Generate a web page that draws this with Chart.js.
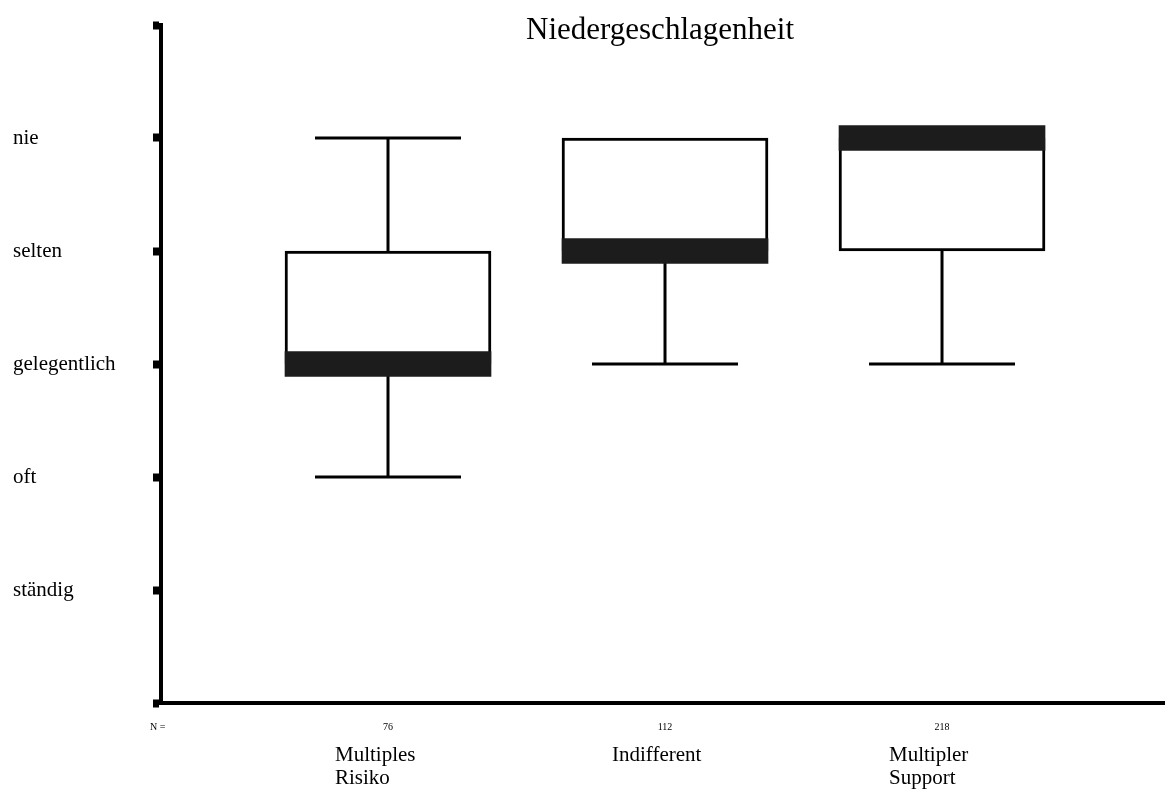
<!DOCTYPE html>
<html>
<head>
<meta charset="utf-8">
<script src="https://cdn.jsdelivr.net/npm/chart.js@4.4.1/dist/chart.umd.min.js"></script>
<style>
  html, body { margin: 0; background: #fff; }
</style>
</head>
<body>
<canvas id="chart" width="1165" height="789"></canvas>
<script>
  // Daten (Boxplot: Niedergeschlagenheit nach Gruppe)
  const groupNames = [['Multiples', 'Risiko'], ['Indifferent'], ['Multipler', 'Support']];
  const groupCounts = ['76', '112', '218'];
  const groupPositions = [1, 2, 3];
  const scaleLabels = ['', 'ständig', 'oft', 'gelegentlich', 'selten', 'nie', ''];
  const whiskerLow = [2, 3, 3];
  const boxLow = [3, 4, 4];
  const medians = [3, 4, 5];
  const boxHigh = [4, 5, 5];
  const whiskerHigh = [5, 5, 5];

  const FONT = 'Liberation Serif';
  const MEDIAN_HALF = 0.11;
  const BOX_WIDTH = 206;
  const CAP_HALF = 73;

  // Whisker-Linien hinter den Boxen (keine Kappe, wenn sie auf der Boxkante liegt)
  const whiskerPlugin = {
    id: 'whiskers',
    beforeDatasetsDraw(chart) {
      const { ctx, scales: { x, y } } = chart;
      ctx.save();
      ctx.strokeStyle = '#000';
      ctx.lineWidth = 3;
      groupPositions.forEach((p, i) => {
        const px = x.getPixelForValue(p);
        ctx.beginPath();
        if (whiskerLow[i] < boxLow[i]) {
          const yl = y.getPixelForValue(whiskerLow[i]);
          ctx.moveTo(px, yl);
          ctx.lineTo(px, y.getPixelForValue(boxLow[i]));
          ctx.moveTo(px - CAP_HALF, yl);
          ctx.lineTo(px + CAP_HALF, yl);
        }
        if (whiskerHigh[i] > boxHigh[i]) {
          const yh = y.getPixelForValue(whiskerHigh[i]);
          ctx.moveTo(px, y.getPixelForValue(boxHigh[i]));
          ctx.lineTo(px, yh);
          ctx.moveTo(px - CAP_HALF, yh);
          ctx.lineTo(px + CAP_HALF, yh);
        }
        ctx.stroke();
      });
      ctx.restore();
    }
  };

  // Titel, "N =" und Gruppennamen
  const textPlugin = {
    id: 'texts',
    afterDraw(chart) {
      const { ctx, scales: { x } } = chart;
      ctx.save();
      ctx.fillStyle = '#000';
      ctx.textBaseline = 'middle';

      ctx.font = `31px "${FONT}"`;
      ctx.textAlign = 'center';
      ctx.fillText('Niedergeschlagenheit', x.getPixelForValue(2) - 5, 31);

      ctx.font = `10px "${FONT}"`;
      ctx.textAlign = 'left';
      ctx.fillText('N =', 150, 727);

      ctx.font = `21px "${FONT}"`;
      groupPositions.forEach((p, i) => {
        const px = x.getPixelForValue(p) - 53;
        groupNames[i].forEach((line, j) => {
          ctx.fillText(line, px, 755 + j * 23);
        });
      });
      ctx.restore();
    }
  };

  new Chart(document.getElementById('chart'), {
    type: 'bar',
    data: {
      datasets: [
        {
          label: 'Median',
          data: groupPositions.map((p, i) => ({ x: p, y: [medians[i] - MEDIAN_HALF, medians[i] + MEDIAN_HALF] })),
          backgroundColor: '#1c1c1c',
          borderWidth: 0,
          barThickness: BOX_WIDTH,
          grouped: false,
          order: 1
        },
        {
          label: 'Box',
          data: groupPositions.map((p, i) => ({ x: p, y: [boxLow[i], boxHigh[i]] })),
          backgroundColor: '#fff',
          borderColor: '#000',
          borderWidth: 3,
          borderSkipped: false,
          barThickness: BOX_WIDTH,
          grouped: false,
          order: 2
        }
      ]
    },
    options: {
      responsive: false,
      animation: false,
      layout: { padding: { left: 13, top: 25, right: 0, bottom: 0 } },
      plugins: {
        legend: { display: false },
        tooltip: { enabled: false },
        title: { display: false }
      },
      scales: {
        x: {
          type: 'linear',
          offset: false,
          min: 0.1805,
          max: 3.805,
          afterBuildTicks: s => { s.ticks = groupPositions.map(v => ({ value: v })); },
          afterFit: s => { s.height = 86; },
          ticks: {
            callback: (v, i) => groupCounts[i],
            color: '#000',
            font: { family: FONT, size: 10 },
            padding: 18,
            maxRotation: 0,
            autoSkip: false
          },
          grid: { display: false, drawTicks: false },
          border: { display: true, color: '#000', width: 4 }
        },
        y: {
          min: 0,
          max: 6,
          afterFit: s => { s.width = 148; },
          ticks: {
            stepSize: 1,
            crossAlign: 'far',
            color: '#000',
            font: { family: FONT, size: 21 },
            callback: v => scaleLabels[v]
          },
          grid: { drawOnChartArea: false, drawTicks: true, tickLength: 8, tickWidth: 8, tickColor: '#000' },
          border: { display: true, color: '#000', width: 4 }
        }
      }
    },
    plugins: [whiskerPlugin, textPlugin]
  });
</script>
</body>
</html>
